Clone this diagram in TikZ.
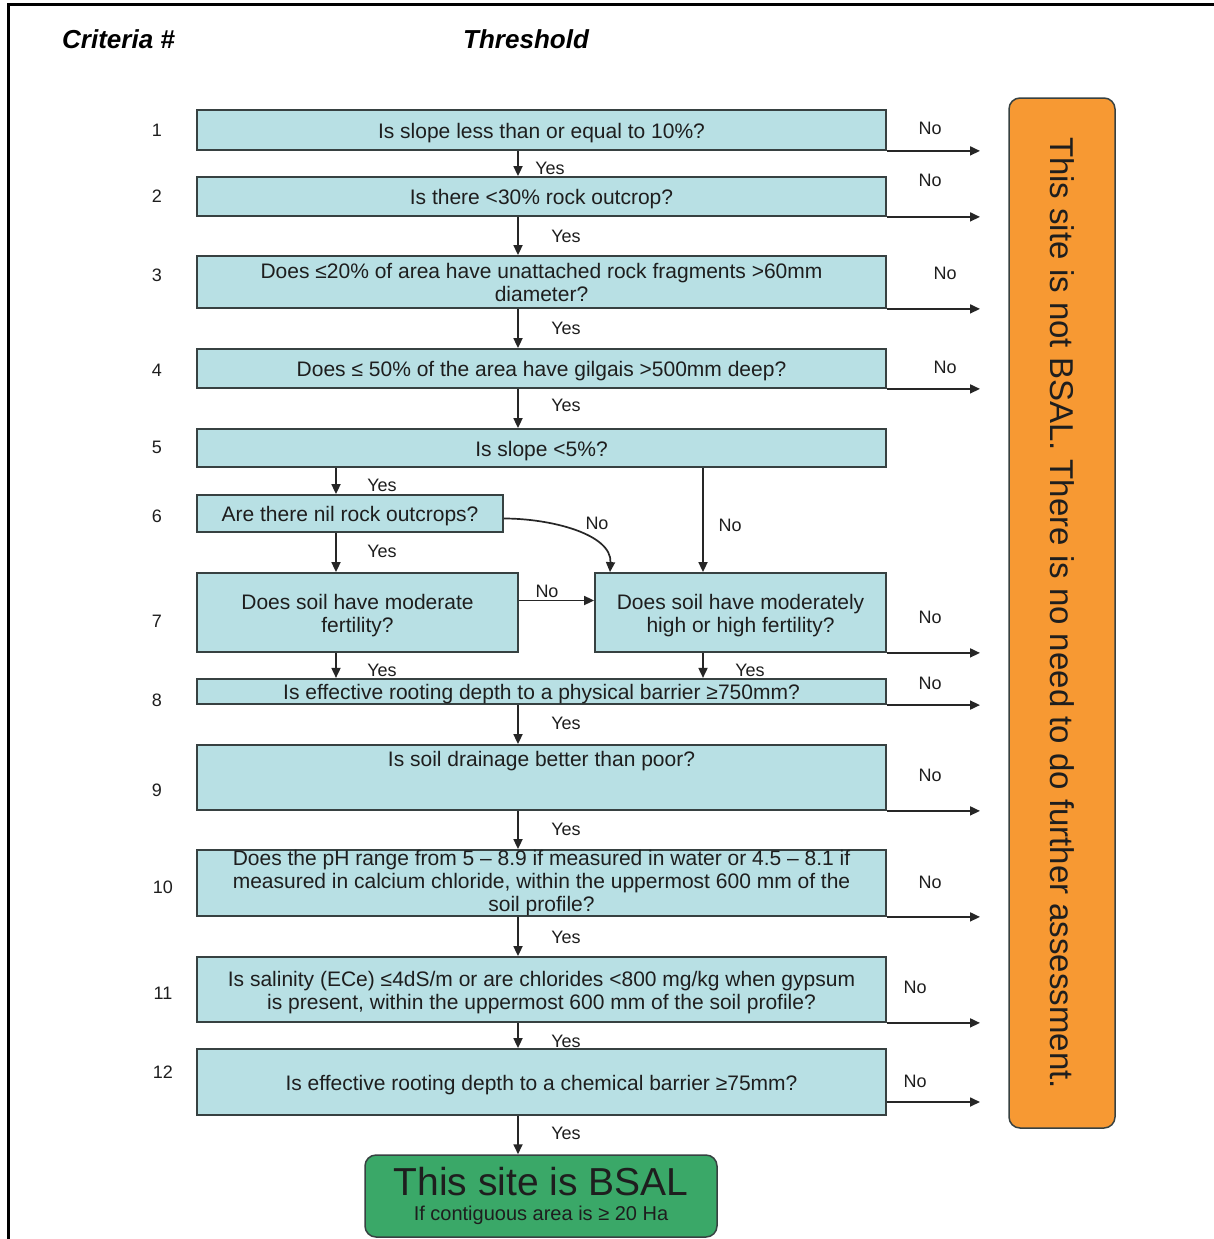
\documentclass[tikz,border=0pt]{standalone}
\usepackage{fontspec}
\setmainfont{Liberation Sans}
\usetikzlibrary{arrows.meta,calc}
\definecolor{boxfill}{RGB}{184,224,228}
\definecolor{boxline}{RGB}{55,65,65}
\definecolor{orangefill}{RGB}{247,153,51}
\definecolor{greenfill}{RGB}{58,168,104}
\definecolor{txt}{RGB}{30,30,30}
\newcommand\qfont{\fontsize{21}{23}\selectfont}
\newcommand\labfont{\fontsize{18}{20}\selectfont}
\newcommand\tallstrut{\rule{0pt}{21pt}}
\begin{document}
\begin{tikzpicture}[x=1pt,y=-1pt,
  qbox/.style={draw=boxline,line width=1.8pt,fill=boxfill,inner sep=0pt,
    minimum width=689pt,font=\qfont,text=txt,
    execute at begin node={\tallstrut}},
  lab/.style={font=\labfont,text=txt,inner sep=0pt},
  num/.style={font=\labfont,text=txt,inner sep=0pt},
  head/.style={font=\fontsize{26}{28}\selectfont\bfseries\itshape,inner sep=0pt,anchor=west},
  arr/.style={line width=1.7pt,draw=black!85,-{Triangle[length=10pt,width=9pt]}}]
\useasboundingbox (0,0) rectangle (1214,1239);
\fill[white] (0,0) rectangle (1214,1239);
% frame
\draw[line width=3pt] (8,1239) -- (8,5) -- (1214,5);
% header
\node[head] (h1) at (62,39) {Criteria \#};
\node[head] (h2) at (463,39) {Threshold};
% criteria numbers
\node[num] (n1) at (157,130) {1};
\node[num] (n2) at (157,196) {2};
\node[num] (n3) at (157,275) {3};
\node[num] (n4) at (157,370) {4};
\node[num] (n5) at (157,447) {5};
\node[num] (n6) at (157,516) {6};
\node[num] (n7) at (157,621) {7};
\node[num] (n8) at (157,700) {8};
\node[num] (n9) at (157,790) {9};
\node[num] (n10) at (163,887) {10};
\node[num] (n11) at (163,993) {11};
\node[num] (n12) at (163,1072) {12};
% boxes
\node[qbox,minimum height=40pt] (b1) at (541.5,130) {Is slope less than or equal to 10\%?};
\node[qbox,minimum height=39pt] (b2) at (541.5,196.5) {Is there <30\% rock outcrop?};
\node[qbox,minimum height=52pt,align=center] (b3) at (541.5,282) {Does ≤20\% of area have unattached rock fragments >60mm\\diameter?};
\node[qbox,minimum height=39pt] (b4) at (541.5,368.5) {Does ≤ 50\% of the area have gilgais >500mm deep?};
\node[qbox,minimum height=38pt] (b5) at (541.5,448) {Is slope <5\%?};
\node[qbox,minimum width=306pt,minimum height=37pt] (b6) at (350,513.5) {Are there nil rock outcrops?};
\node[qbox,minimum width=321pt,minimum height=79pt,align=center] (b7l) at (357.5,612.5) {\tallstrut Does soil have moderate\\fertility?};
\node[qbox,minimum width=291pt,minimum height=79pt,align=center] (b7r) at (740.5,612.5) {\tallstrut Does soil have moderately\\high or high fertility?};
\node[qbox,minimum height=25pt] (b8) at (541.5,691.5) {Is effective rooting depth to a physical barrier ≥750mm?};
\node[qbox,minimum height=65pt,text depth=44pt] (b9) at (541.5,777.5) {Is soil drainage better than poor?};
\node[qbox,minimum height=66pt,align=center] (b10) at (541.5,883) {Does the pH range from 5 – 8.9 if measured in water or 4.5 – 8.1 if\\measured in calcium chloride, within the uppermost 600 mm of the\\soil profile?};
\node[qbox,minimum height=65pt,align=center] (b11) at (541.5,989.5) {\tallstrut Is salinity (ECe) ≤4dS/m or are chlorides <800 mg/kg when gypsum\\is present, within the uppermost 600 mm of the soil profile?};
\node[qbox,minimum height=66pt] (b12) at (541.5,1082) {Is effective rooting depth to a chemical barrier ≥75mm?};
% outcome boxes
\node[draw=boxline,line width=1.5pt,fill=orangefill,rounded corners=11pt,rotate=-90,
  minimum width=1030pt,minimum height=106pt,inner sep=0pt,text=txt,
  font=\fontsize{33}{35}\selectfont] (nb) at (1062,613)
  {This site is not BSAL. There is no need to do further assessment.};
\node[draw=boxline,line width=1.5pt,fill=greenfill,rounded corners=11pt,
  minimum width=352pt,minimum height=82pt,inner sep=0pt,text=txt,align=center,
  font=\fontsize{39}{25}\selectfont] (bsal) at (541,1196)
  {This site is BSAL\\{\fontsize{20}{22}\selectfont If contiguous area is ≥ 20 Ha}};
% columns
\coordinate (cA) at (518,0);
\coordinate (cB) at (336,0);
\coordinate (cC) at (703,0);
\coordinate (cD) at (610,0);
\coordinate (xe) at (980,0);
% yes arrows
\draw[arr] (b1.south -| cA) -- (b2.north -| cA);
\draw[arr] (b2.south -| cA) -- (b3.north -| cA);
\draw[arr] (b3.south -| cA) -- (b4.north -| cA);
\draw[arr] (b4.south -| cA) -- (b5.north -| cA);
\draw[arr] (b5.south -| cB) -- (b6.north -| cB);
\draw[arr] (b6.south -| cB) -- (b7l.north -| cB);
\draw[arr] (b7l.south -| cB) -- (b8.north -| cB);
\draw[arr] (b7r.south -| cC) -- (b8.north -| cC);
\draw[arr] (b8.south -| cA) -- (b9.north -| cA);
\draw[arr] (b9.south -| cA) -- (b10.north -| cA);
\draw[arr] (b10.south -| cA) -- (b11.north -| cA);
\draw[arr] (b11.south -| cA) -- (b12.north -| cA);
\draw[arr] (b12.south -| cA) -- (bsal.north -| cA);
% internal no arrows
\draw[arr] (b5.south -| cC) -- (b7r.north -| cC);
\draw[arr] ($(b6.east)+(0,5)$) .. controls +(47,0) and +(2,-38) .. (b7r.north -| cD);
\draw[arr] ($(b7l.east)+(0,-12)$) coordinate (s7) -- (s7 -| b7r.west);
% no arrows to the right
\draw[arr] (b1.south east) -- (b1.south east -| xe);
\draw[arr] (b2.south east) -- (b2.south east -| xe);
\draw[arr] (b3.south east) -- (b3.south east -| xe);
\draw[arr] (b4.south east) -- (b4.south east -| xe);
\draw[arr] (b7r.south east) -- (b7r.south east -| xe);
\draw[arr] (b8.south east) -- (b8.south east -| xe);
\draw[arr] (b9.south east) -- (b9.south east -| xe);
\draw[arr] (b10.south east) -- (b10.south east -| xe);
\draw[arr] (b11.south east) -- (b11.south east -| xe);
\draw[arr] ($(b12.east)+(0,20)$) coordinate (s12) -- (s12 -| xe);
% labels
\node[lab] (y1) at (550,168) {Yes};
\node[lab] (y2) at (566,236) {Yes};
\node[lab] (y3) at (566,328) {Yes};
\node[lab] (y4) at (566,405) {Yes};
\node[lab] (y5) at (382,485) {Yes};
\node[lab] (y6) at (382,551) {Yes};
\node[lab] (y7l) at (382,670) {Yes};
\node[lab] (y7r) at (750,670) {Yes};
\node[lab] (y8) at (566,723) {Yes};
\node[lab] (y9) at (566,829) {Yes};
\node[lab] (y10) at (566,937) {Yes};
\node[lab] (y11) at (566,1041) {Yes};
\node[lab] (y12) at (566,1133) {Yes};
\node[lab] (m5) at (730,525) {No};
\node[lab] (m6) at (597,523) {No};
\node[lab] (m7) at (547,591) {No};
\node[lab] (o1) at (930,128) {No};
\node[lab] (o2) at (930,180) {No};
\node[lab] (o3) at (945,273) {No};
\node[lab] (o4) at (945,367) {No};
\node[lab] (o7) at (930,617) {No};
\node[lab] (o8) at (930,683) {No};
\node[lab] (o9) at (930,775) {No};
\node[lab] (o10) at (930,882) {No};
\node[lab] (o11) at (915,987) {No};
\node[lab] (o12) at (915,1081) {No};
\end{tikzpicture}
\end{document}
